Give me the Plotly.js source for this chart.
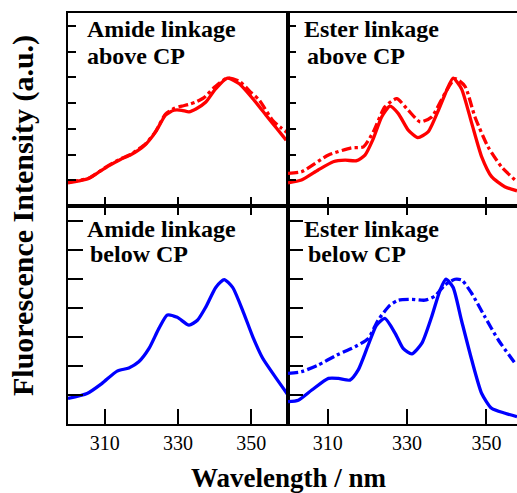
<!DOCTYPE html>
<html><head><meta charset="utf-8">
<script src="https://cdn.plot.ly/plotly-3.0.1.min.js"></script>
<style>html,body{margin:0;padding:0;background:#fff;overflow:hidden;}</style>
</head><body><div id="chart" style="width:517px;height:493px;"></div>
<script>
// ---- data (normalised fluorescence intensity, arbitrary units) ----
const tlSolidX = [300, 303, 305.6, 308, 311.1, 314.3, 317, 319, 321.2, 323.9, 326.6, 328.9, 331, 333, 335, 337.6, 340.3, 343.5, 346.7, 350.4, 354, 357, 359.5];
const tlSolidY = [0.90, 0.98, 1.07, 1.28, 1.56, 1.81, 1.98, 2.15, 2.40, 2.88, 3.53, 3.72, 3.72, 3.66, 3.78, 4.04, 4.56, 4.97, 4.75, 4.17, 3.53, 3.00, 2.56];
const tlDashX = [300, 305.6, 311.1, 314.3, 317, 321.2, 323.9, 326.6, 329, 331, 333, 334.8, 337, 340, 343.5, 346.7, 350, 352.2, 355.8, 358, 360];
const tlDashY = [0.92, 1.08, 1.58, 1.83, 2.00, 2.42, 2.90, 3.57, 3.80, 3.88, 3.95, 4.04, 4.20, 4.62, 4.98, 4.85, 4.40, 4.11, 3.33, 3.05, 2.83];

const trSolidX = [300, 303.4, 307.6, 311.4, 314.4, 317.3, 319.4, 321.5, 323.6, 325.7, 327.8, 330.3, 332.7, 335.3, 337.9, 340, 341.6, 343.7, 346.3, 348.8, 351.3, 354.6, 357.7];
const trSolidY = [0.90, 1.01, 1.40, 1.72, 1.78, 1.76, 1.98, 2.62, 3.46, 3.88, 3.59, 2.95, 2.66, 2.88, 3.72, 4.50, 4.97, 4.56, 3.21, 1.91, 1.14, 0.75, 0.59];
const trDashX = [300, 303.4, 310.2, 316, 319, 321.5, 324.4, 327.4, 330.3, 333.3, 336.2, 339.5, 342.1, 344.6, 347.1, 350.4, 353.8, 357.7];
const trDashY = [1.27, 1.33, 1.98, 2.26, 2.30, 2.88, 3.85, 4.17, 3.72, 3.27, 3.46, 4.37, 4.95, 4.65, 3.46, 2.30, 1.52, 0.94];

const blSolidX = [300, 305.2, 309.3, 313.4, 316.6, 319.3, 322.1, 324.8, 327.1, 329.8, 333, 335.3, 337.6, 340.3, 342.6, 344.9, 347.6, 350.4, 353.1, 356.8, 360];
const blSolidY = [0.88, 1.05, 1.40, 1.82, 1.93, 2.14, 2.60, 3.29, 3.75, 3.67, 3.40, 3.57, 4.03, 4.70, 4.97, 4.70, 3.92, 3.00, 2.26, 1.57, 1.00];

const brSolidX = [300, 302.6, 306, 310.2, 312.7, 315.6, 317.7, 320.2, 322.3, 324.4, 327, 329, 331.2, 333.7, 336.2, 338.3, 339.8, 341.6, 343.7, 346.3, 348.8, 351.3, 354.7, 357.7];
const brSolidY = [0.77, 0.82, 1.17, 1.57, 1.57, 1.51, 1.86, 2.71, 3.40, 3.63, 3.12, 2.60, 2.41, 2.77, 3.69, 4.60, 4.98, 4.70, 3.57, 2.20, 1.05, 0.54, 0.37, 0.25];
const brDashX = [300, 303.4, 307.6, 312.3, 316.9, 320.2, 322.7, 325.7, 327.8, 331.2, 334.5, 337, 339.5, 342.1, 343.8, 346.3, 349.6, 353, 357.2];
const brDashY = [1.74, 1.80, 2.03, 2.37, 2.66, 2.94, 3.57, 4.09, 4.26, 4.29, 4.26, 4.40, 4.78, 4.98, 4.95, 4.49, 3.69, 2.89, 2.09];

const xTickVals = [310, 330, 350];
const yTickVals = [1, 2, 3, 4, 5, 6, 7];
const panelLabels = [["Amide linkage", "above CP"], ["Ester linkage", "above CP"], ["Amide linkage", "below CP"], ["Ester linkage", "below CP"]];
const xTitle = "Wavelength / nm";
const yTitle = "Fluorescence Intensity (a.u.)";

// ---- layout helpers ----
const W = 517, H = 493;
const px = v => v / W;
const py = v => 1 - v / H;
const FONT = "Liberation Serif, Times New Roman, serif";
const RED = "#ff0000", BLUE = "#0000ff";

function line(x, y, xa, ya, color, dash) {
  return {x: x, y: y, xaxis: xa, yaxis: ya, mode: "lines", type: "scatter",
    line: {color: color, width: 3.3, dash: dash, shape: "spline", smoothing: 0.6},
    hoverinfo: "skip", showlegend: false};
}

const data = [
  line(tlSolidX, tlSolidY, "x", "y", RED, "solid"),
  line(tlDashX, tlDashY, "x", "y", RED, "dashdot"),
  line(trSolidX, trSolidY, "x2", "y2", RED, "solid"),
  line(trDashX, trDashY, "x2", "y2", RED, "dashdot"),
  line(blSolidX, blSolidY, "x3", "y3", BLUE, "solid"),
  line(brSolidX, brSolidY, "x4", "y4", BLUE, "solid"),
  line(brDashX, brDashY, "x4", "y4", BLUE, "dashdot"),
  {x: [], y: [], xaxis: "x5", yaxis: "y3", type: "scatter", mode: "lines", showlegend: false},
  {x: [], y: [], xaxis: "x6", yaxis: "y4", type: "scatter", mode: "lines", showlegend: false}
];

const xDomL = [px(68), px(288)], xDomR = [px(288), 1];
const yDomT = [py(206), py(13)], yDomB = [py(424), py(206)];

function xax(dom, range, anchor, labels, tlen) {
  return {domain: dom, range: range, anchor: anchor, showline: true, linecolor: "#000", linewidth: 2,
    mirror: true, ticks: "inside", ticklen: tlen, tickwidth: 2, tickcolor: "#000",
    tickvals: xTickVals, showticklabels: labels, showgrid: false, zeroline: false,
    tickfont: {family: FONT, size: 20, color: "#000"}, fixedrange: true};
}
function xtop(over, range, anchor) {
  return {overlaying: over, side: "top", range: range, anchor: anchor, showline: false,
    ticks: "inside", ticklen: 9, tickwidth: 2, tickcolor: "#000", tickvals: xTickVals,
    showticklabels: false, showgrid: false, zeroline: false, fixedrange: true};
}
function yax(dom, anchor, mirror, tlen) {
  return {domain: dom, range: [0, 7.5], anchor: anchor, showline: true, linecolor: "#000", linewidth: 2,
    mirror: mirror, ticks: "inside", ticklen: tlen, tickwidth: 2, tickcolor: "#000",
    tickvals: yTickVals, showticklabels: false, showgrid: false, zeroline: false, fixedrange: true};
}

const rangeL = [300, 360], rangeR = [300, 357.7];

const annotations = [];
const labelPos = [[85, 85], [302, 305], [85, 88], [302, 306]];
const labelY = [[29, 56], [29, 56], [229, 254], [229, 254]];
panelLabels.forEach((lines, i) => {
  lines.forEach((t, j) => {
    annotations.push({text: "<b>" + t + "</b>", xref: "paper", yref: "paper",
      x: px(labelPos[i][j]), y: py(labelY[i][j]), xanchor: "left", yanchor: "middle",
      showarrow: false, font: {family: FONT, size: 24, color: "#000"}});
  });
});
annotations.push({text: "<b>" + xTitle + "</b>", xref: "paper", yref: "paper",
  x: px(289), y: py(478), xanchor: "center", yanchor: "middle", showarrow: false,
  font: {family: FONT, size: 27, color: "#000"}});
annotations.push({text: "<b>" + yTitle + "</b>", xref: "paper", yref: "paper",
  x: px(23), y: py(216), xanchor: "center", yanchor: "middle", textangle: -90, showarrow: false,
  font: {family: FONT, size: 30, color: "#000"}});

const layout = {
  width: W, height: H, margin: {l: 0, r: 0, t: 0, b: 0},
  paper_bgcolor: "#fff", plot_bgcolor: "#fff", showlegend: false,
  font: {family: FONT, color: "#000"},
  xaxis: xax(xDomL, rangeL, "y", false, 9),
  yaxis: yax(yDomT, "x", true, 8),
  xaxis2: xax(xDomR, rangeR, "y2", false, 9),
  yaxis2: yax(yDomT, "x2", false, 8),
  xaxis3: xax(xDomL, rangeL, "y3", true, 15),
  yaxis3: yax(yDomB, "x3", true, 15),
  xaxis4: xax(xDomR, rangeR, "y4", true, 15),
  yaxis4: yax(yDomB, "x4", false, 15),
  xaxis5: xtop("x3", rangeL, "y3"),
  xaxis6: xtop("x4", rangeR, "y4"),
  annotations: annotations
};

Plotly.newPlot("chart", data, layout, {displayModeBar: false, staticPlot: true});
</script>
</body></html>
